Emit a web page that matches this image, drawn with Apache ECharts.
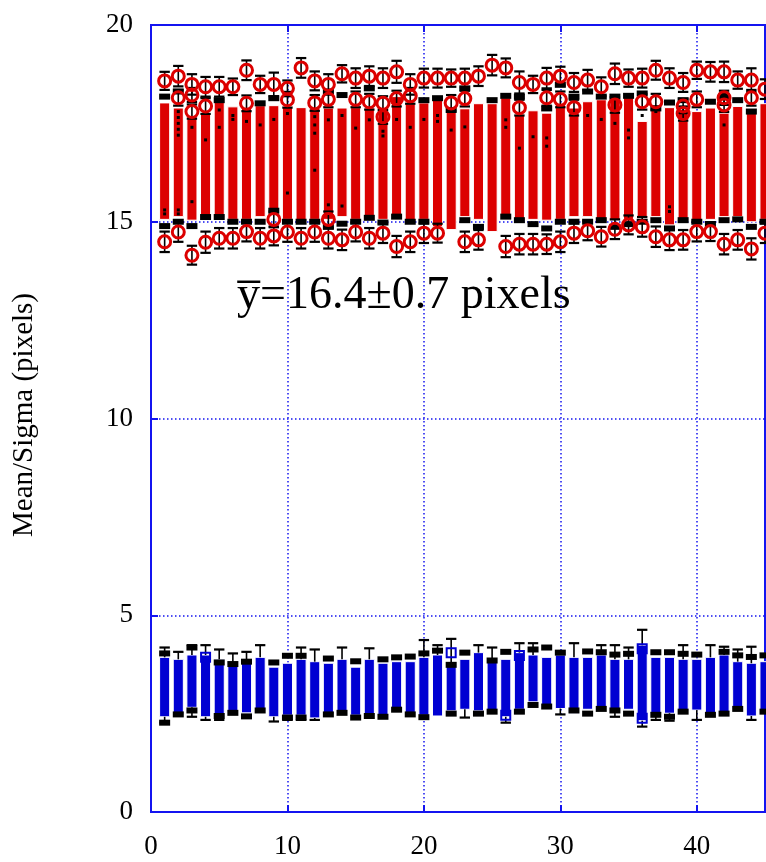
<!DOCTYPE html>
<html>
<head>
<meta charset="utf-8">
<script src="https://cdn.jsdelivr.net/npm/echarts@6/dist/echarts.min.js"></script>
<style>
  html, body { margin: 0; padding: 0; background: #ffffff; }
  #chart { width: 766px; height: 862px; }
</style>
</head>
<body>
<div id="chart"></div>
<script>
// Frame numbers along the x axis
const frameNo = [1,2,3,4,5,6,7,8,9,10,11,12,13,14,15,16,17,18,19,20,21,22,23,24,25,26,27,28,29,30,31,32,33,34,35,36,37,38,39,40,41,42,43,44,45];

// Mean distribution (red): box extent per frame
const redLow  = [15.06,15.13,15.04,15.13,15.13,15.06,15.06,15.13,15.17,15.06, 15.04,15.06,15.06,15.13,15.06, 15.04,15.06,15.06,15.04,15.06, 14.87,14.80,15.13,15.06,14.75, 15.06,15.06,15.06,15.04,15.06, 15.13,15.13,15.04,15.04,15.06, 15.13,15.13,14.92,15.06,15.00, 15.06,15.13,15.13,15.00,15.06];
const redHigh = [18.02,17.89,17.67,17.76,18.10,17.92,17.90,17.95,17.95,17.92, 17.90,17.89,17.89,17.89,17.90, 17.89,17.82,18.18,18.00,18.02, 18.13,17.89,17.87,18.00,18.00, 18.15,17.71,17.82,17.76,18.00, 17.89,18.05,18.10,18.13,18.18, 17.55,17.97,17.90,17.85,17.80, 17.89,17.76,17.93,17.87,18.00];

// Upper / lower red points with their errors
const redUpper    = [18.58,18.70,18.49,18.43,18.43,18.43,18.85,18.49,18.49,18.39, 18.91,18.58,18.49,18.76,18.65, 18.70,18.65,18.81,18.49,18.65, 18.65,18.65,18.65,18.70,18.98, 18.91,18.54,18.49,18.65,18.70, 18.54,18.60,18.43,18.76,18.65, 18.65,18.85,18.65,18.54,18.85, 18.81,18.81,18.60,18.60,18.37];
const redUpperErr = [0.23,0.26,0.26,0.25,0.25,0.21,0.25,0.22,0.30,0.20, 0.25,0.24,0.26,0.22,0.25, 0.25,0.25,0.28,0.26,0.24, 0.24,0.22,0.24,0.25,0.26, 0.24,0.28,0.22,0.26,0.24, 0.24,0.26,0.24,0.26,0.22, 0.24,0.24,0.25,0.24,0.22, 0.25,0.26,0.22,0.30,0.25];
const redLower    = [14.49,14.74,14.15,14.48,14.58,14.58,14.75,14.58,14.64,14.74, 14.58,14.74,14.58,14.54,14.74, 14.58,14.71,14.37,14.49,14.71, 14.71,null,14.49,14.54,null, 14.37,14.43,14.43,14.43,14.49, 14.71,14.77,14.62,14.81,14.92, 14.87,14.62,14.54,14.54,14.75, 14.75,14.43,14.54,14.31,14.71];
const redLowerErr = [0.26,0.25,0.24,0.27,0.26,0.26,0.25,0.26,0.24,0.25, 0.26,0.25,0.26,0.26,0.24, 0.26,0.25,0.27,0.26,0.25, 0.24,0.25,0.26,0.25,0.25, 0.27,0.26,0.26,0.25,0.26, 0.25,0.24,0.25,0.25,0.24, 0.25,0.26,0.26,0.25,0.25, 0.24,0.26,0.25,0.27,0.25];

// Additional red points near the box ends: [frame, value, error]
const redExtra = [[2,18.15,0.20],[3,18.22,0.18],[3,17.80,0.18],[4,17.94,0.20],[7,18.01,0.20],[9,15.06,0.20],[10,18.10,0.20],[12,18.02,0.20],[13,18.11,0.20],[13,15.06,0.20],[15,18.11,0.20],[16,18.05,0.20],[17,18.01,0.18],[17,17.67,0.18],[18,18.13,0.20],[19,18.20,0.20],[22,18.02,0.20],[23,18.13,0.20],[27,17.90,0.20],[29,18.15,0.20],[30,18.11,0.20],[31,17.90,0.20],[34,17.97,0.20],[36,18.05,0.20],[37,18.05,0.20],[39,17.94,0.18],[39,17.75,0.18],[40,18.11,0.20],[42,18.15,0.18],[42,17.97,0.18],[44,18.15,0.20]];

// Black sample marks at the red box ends
const redTopMark = [18.18,18.31,null,null,18.09,null,null,18.01,18.14,null, null,null,18.31,18.22,null, 18.39,null,null,null,18.09, 18.14,17.84,18.39,null,18.09, 18.20,18.18,null,17.88,18.48, 18.18,18.31,18.18,18.18,18.20, 18.26,17.88,18.03,18.09,null, 18.05,18.20,18.09,17.80,null];
const redBotMark = [14.89,15.00,14.89,15.12,15.12,15.00,15.00,15.00,15.28,15.00, 15.00,15.00,14.87,14.95,15.00, 15.10,14.98,15.13,15.00,15.00, null,null,15.04,14.87,null, 15.13,15.04,14.94,14.83,15.00, 15.00,15.00,15.04,14.87,14.94, 15.00,15.04,14.83,15.04,15.00, 14.94,15.04,15.06,14.87,15.00];

// Individual samples inside the red boxes: [frame, value]
const redDots = [[1,15.30],[1,15.20],[2,17.80],[2,17.65],[2,17.50],[2,17.35],[2,17.20],[2,15.30],[2,15.20],[3,17.40],[3,15.51],[4,17.08],[5,17.84],[5,17.40],[6,17.70],[6,17.60],[7,17.55],[8,17.46],[9,17.60],[10,15.73],[10,17.75],[12,17.67],[12,17.46],[12,17.25],[12,16.31],[13,17.59],[13,15.43],[14,17.70],[14,15.40],[15,17.38],[16,17.59],[17,17.30],[17,17.18],[18,17.60],[19,17.40],[20,17.60],[21,17.70],[21,17.55],[22,17.33],[23,17.41],[26,17.59],[26,17.40],[27,16.87],[28,17.16],[29,17.13],[29,16.92],[32,17.70],[33,17.60],[34,17.50],[35,17.33],[35,17.13],[36,17.70],[37,17.80],[38,15.38],[38,15.26],[39,17.90],[42,17.46]];

// Sigma distribution (blue): box extent per frame
const blueLow  = [2.42,2.51,2.66,2.42,2.39,2.55,2.52,2.57,2.42,2.46, 2.46,2.39,2.51,2.57,2.46, 2.46,2.46,2.63,2.52,2.46, 2.44,2.57,2.61,2.57,2.59, 2.42,2.61,2.80,2.63,2.63, 2.51,2.61,2.68,2.57,2.61, 2.32,2.51,2.51,2.57,2.59, 2.51,2.55,2.63,2.44,2.59];
const blueHigh = [3.93,3.88,3.99,3.99,3.88,3.82,3.86,3.93,3.68,3.78, 3.88,3.82,3.78,3.88,3.68, 3.88,3.78,3.82,3.82,3.93, 3.99,3.80,3.88,4.05,3.88, 3.88,4.05,3.99,3.93,3.99, 3.93,3.93,3.99,3.88,3.88, 4.24,3.93,3.93,3.88,3.88, 3.93,3.99,3.82,3.78,3.82];

// Black sample marks at the blue box ends
const blueTopMark = [4.03,null,4.18,null,3.80,3.76,3.82,null,3.80,3.97, 3.97,null,3.90,null,3.83, null,3.88,3.93,3.95,4.03, 4.10,3.74,4.05,null,3.85, 4.07,null,4.13,4.18,4.05, null,4.08,4.06,4.00,4.02, null,4.06,4.06,4.02,4.00, null,4.07,3.98,3.94,3.98];
const blueBotMark = [2.27,2.48,2.58,null,2.44,2.52,2.43,2.58,null,2.40, 2.40,null,2.48,2.52,2.40, 2.44,2.42,2.60,2.48,2.41, null,2.50,null,2.50,2.55, null,2.55,2.72,2.68,null, 2.58,2.50,2.62,2.58,2.50, null,2.47,2.42,2.55,null, 2.47,2.50,2.62,null,2.55];

// Whisker ends of the blue boxes
const blueUpperWhisker = [4.18,4.07,4.24,4.24,4.13,4.03,4.07,4.24,null,null, 4.18,4.13,null,4.18,null, 4.16,null,null,null,4.37, 4.24,4.40,null,4.24,4.18, null,4.29,4.29,null,null, 4.29,null,4.24,4.24,4.18, 4.63,null,null,4.24,null, 4.24,4.20,4.13,4.20,null];
const blueLowerWhisker = [2.27,null,2.42,2.34,2.34,null,null,null,2.30,2.34, 2.34,2.34,null,null,null, null,null,null,null,null, null,null,2.40,null,null, 2.27,null,null,null,2.48, null,null,null,2.42,null, 2.17,2.34,2.32,null,2.34, null,null,null,2.34,null];

// Hollow blue points: [frame, value]
const blueOpen = [[4,3.93],[22,4.05],[26,2.46],[27,3.98],[36,4.15],[36,2.38]];

const xTicks = [0, 10, 20, 30, 40];
const yTicks = [0, 5, 10, 15, 20];

const RED = '#dc0000';
const BLUE = '#0000d2';
const AXIS_BLUE = '#1414f0';
const FONT = '"Liberation Serif", "Times New Roman", serif';

// ---- build series data from the arrays ----
const redBoxData = frameNo.map((f, i) => [f, redLow[i], redHigh[i]]);
const blueBoxData = frameNo.map((f, i) => [f, blueLow[i], blueHigh[i]]);

const redPoints = [];
const redErrBars = [];
frameNo.forEach((f, i) => {
  if (redUpper[i] != null) {
    redPoints.push([f, redUpper[i]]);
    redErrBars.push([f, redUpper[i] - redUpperErr[i], redUpper[i] + redUpperErr[i]]);
  }
  if (redLower[i] != null) {
    redPoints.push([f, redLower[i]]);
    redErrBars.push([f, redLower[i] - redLowerErr[i], redLower[i] + redLowerErr[i]]);
  }
});
redExtra.forEach(p => {
  redPoints.push([p[0], p[1]]);
  redErrBars.push([p[0], p[1] - p[2], p[1] + p[2]]);
});

const blackMarks = [];
frameNo.forEach((f, i) => {
  [redTopMark[i], redBotMark[i], blueTopMark[i], blueBotMark[i]].forEach(v => {
    if (v != null) blackMarks.push([f, v]);
  });
});

const blueWhiskers = [];
frameNo.forEach((f, i) => {
  if (blueUpperWhisker[i] != null) blueWhiskers.push([f, blueHigh[i], blueUpperWhisker[i]]);
  if (blueLowerWhisker[i] != null) blueWhiskers.push([f, blueLow[i], blueLowerWhisker[i]]);
});

// ---- render helpers ----
function boxRenderer(color) {
  return function (params, api) {
    const x = api.value(0);
    const top = api.coord([x, api.value(2)]);
    const bot = api.coord([x, api.value(1)]);
    const w = api.size([0.74, 0])[0];
    return {
      type: 'rect',
      shape: { x: top[0] - w / 2, y: top[1], width: w, height: bot[1] - top[1] },
      style: { fill: color, stroke: '#ffffff', lineWidth: 1 }
    };
  };
}

// vertical error bar with caps at both ends
function errorBarRenderer(params, api) {
  const x = api.value(0);
  const a = api.coord([x, api.value(1)]);
  const b = api.coord([x, api.value(2)]);
  const half = api.size([0.38, 0])[0];
  const st = { stroke: '#000', lineWidth: 2.2 };
  return {
    type: 'group',
    children: [
      { type: 'line', shape: { x1: a[0], y1: a[1], x2: b[0], y2: b[1] }, style: { stroke: '#000', lineWidth: 1.6 } },
      { type: 'line', shape: { x1: a[0] - half, y1: a[1], x2: a[0] + half, y2: a[1] }, style: st },
      { type: 'line', shape: { x1: b[0] - half, y1: b[1], x2: b[0] + half, y2: b[1] }, style: st }
    ]
  };
}

// whisker from box edge to a capped end
function whiskerRenderer(params, api) {
  const x = api.value(0);
  const a = api.coord([x, api.value(1)]);
  const b = api.coord([x, api.value(2)]);
  const half = api.size([0.38, 0])[0];
  return {
    type: 'group',
    children: [
      { type: 'line', shape: { x1: a[0], y1: a[1], x2: b[0], y2: b[1] }, style: { stroke: '#000', lineWidth: 1.6 } },
      { type: 'line', shape: { x1: b[0] - half, y1: b[1], x2: b[0] + half, y2: b[1] }, style: { stroke: '#000', lineWidth: 2.2 } }
    ]
  };
}

const chart = echarts.init(document.getElementById('chart'), null, { renderer: 'canvas' });

const axisLineStyle = { color: AXIS_BLUE, width: 2 };
const gridLineStyle = { color: AXIS_BLUE, type: [1.5, 2.5], width: 1.5 };

chart.setOption({
  animation: false,
  backgroundColor: '#ffffff',
  grid: { left: 151, top: 25, width: 614, height: 787, show: true, borderColor: AXIS_BLUE, borderWidth: 2, backgroundColor: 'transparent' },
  xAxis: [
    {
      type: 'value', min: xTicks[0], max: 45, interval: 10, position: 'bottom',
      axisLine: { show: true, onZero: false, lineStyle: axisLineStyle },
      axisTick: { show: true, inside: true, length: 7, lineStyle: axisLineStyle },
      axisLabel: {
        color: '#000', fontFamily: FONT, fontSize: 27, margin: 21, showMaxLabel: false,
        formatter: v => (xTicks.indexOf(v) >= 0 ? String(v) : '')
      },
      splitLine: { show: true, lineStyle: gridLineStyle }
    },
    {
      type: 'value', min: xTicks[0], max: 45, interval: 10, position: 'top',
      axisLine: { show: true, onZero: false, lineStyle: axisLineStyle },
      axisTick: { show: true, inside: true, length: 7, lineStyle: axisLineStyle },
      axisLabel: { show: false },
      splitLine: { show: false }
    }
  ],
  yAxis: [
    {
      type: 'value', min: yTicks[0], max: yTicks[yTicks.length - 1], interval: 5,
      axisLine: { show: true, onZero: false, lineStyle: axisLineStyle },
      axisTick: { show: true, inside: true, length: 7, lineStyle: axisLineStyle },
      axisLabel: { color: '#000', fontFamily: FONT, fontSize: 27, margin: 18 },
      splitLine: { show: true, lineStyle: gridLineStyle }
    }
  ],
  graphic: [
    {
      type: 'text', x: 24, y: 415, rotation: Math.PI / 2,
      style: { text: 'Mean/Sigma (pixels)', font: '29px ' + FONT, fill: '#000', align: 'center', verticalAlign: 'middle' }
    },
    {
      type: 'text', left: 237, top: 273,
      style: { text: 'y\u0305=16.4\u00b10.7 pixels', font: '46px ' + FONT, fill: '#000' }
    }
  ],
  series: [
    { type: 'custom', name: 'mean box', renderItem: boxRenderer(RED), data: redBoxData, encode: { x: 0, y: [1, 2] }, clip: false, z: 2 },
    { type: 'custom', name: 'sigma box', renderItem: boxRenderer(BLUE), data: blueBoxData, encode: { x: 0, y: [1, 2] }, clip: false, z: 2 },
    { type: 'scatter', name: 'samples', data: redDots, symbol: 'rect', symbolSize: [3, 3], itemStyle: { color: '#000', opacity: 1 }, clip: false, z: 3 },
    { type: 'scatter', name: 'end samples', data: blackMarks, symbol: 'rect', symbolSize: [11, 6], itemStyle: { color: '#000', opacity: 1 }, clip: false, z: 3 },
    { type: 'custom', name: 'sigma whiskers', renderItem: whiskerRenderer, data: blueWhiskers, encode: { x: 0, y: [1, 2] }, clip: false, z: 4 },
    { type: 'custom', name: 'mean errors', renderItem: errorBarRenderer, data: redErrBars, encode: { x: 0, y: [1, 2] }, clip: false, z: 4 },
    { type: 'scatter', name: 'mean points', data: redPoints, symbol: 'circle', symbolSize: 12,
      itemStyle: { color: 'rgba(0,0,0,0)', borderColor: RED, borderWidth: 3, opacity: 1 }, clip: false, z: 5 },
    { type: 'scatter', name: 'sigma points', data: blueOpen, symbol: 'rect', symbolSize: 9,
      itemStyle: { color: 'rgba(0,0,0,0)', borderColor: BLUE, borderWidth: 2, opacity: 1 }, clip: false, z: 5 }
  ]
});
</script>
</body>
</html>
